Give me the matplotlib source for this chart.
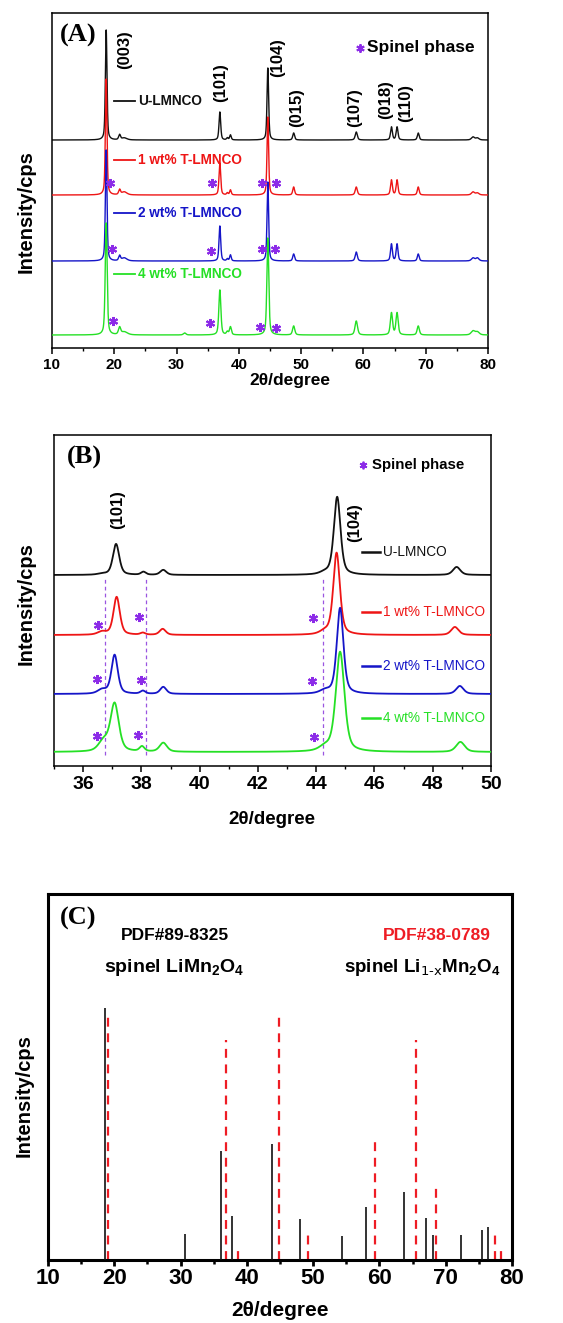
import numpy as np
import matplotlib
matplotlib.use('Agg')
import matplotlib.pyplot as plt
from matplotlib.ticker import MultipleLocator

plt.rcParams['font.family'] = ['Liberation Sans', 'DejaVu Sans']
plt.rcParams['mathtext.default'] = 'regular'

# ---------------- data ----------------
samples = ['U-LMNCO', '1 wt% T-LMNCO', '2 wt% T-LMNCO', '4 wt% T-LMNCO']
colors = ['#111111', '#ee1515', '#1515c8', '#25e025']

# Panel A: peak positions (deg), heights per sample, FWHM
a_pos = [18.7, 20.85, 21.6, 31.3, 36.95, 38.15, 38.65, 44.65, 48.8, 58.85, 64.5, 65.4, 68.8, 77.6, 78.3]
a_h_u = [110, 5, 2, 0, 28, 2, 5, 72, 7, 8, 13, 13, 7, 3, 2]
a_h_1 = [116, 5, 3, 0, 32, 2, 5, 78, 8, 8, 15, 15, 8, 3, 2]
a_h_2 = [111, 5, 3, 0, 35, 2, 6, 79, 7, 9, 17, 17, 7, 3, 3]
a_h_4 = [112, 7, 3, 2, 45, 3, 8, 97, 9, 14, 22, 22, 9, 4, 3]
a_fwhm = [0.3, 0.35, 1.0, 0.4, 0.32, 0.3, 0.3, 0.3, 0.35, 0.4, 0.35, 0.35, 0.35, 0.6, 0.6]
a_offsets = [208, 153, 87, 13]
a_star_x = [[19.3, 35.7, 43.7, 46.0], [19.6, 35.5, 43.7, 45.8], [19.8, 35.4, 43.4, 46.0]]
a_star_y = [[165, 165, 165, 165], [99, 97, 99, 99], [27, 25, 21, 20]]
a_hkl = ['(003)', '(101)', '(104)', '(015)', '(107)', '(018)', '(110)']
a_hkl_x = [21.7, 37.0, 46.3, 49.3, 58.6, 63.5, 66.7]
a_hkl_y = [298, 265, 290, 240, 240, 248, 245]

# Panel B
b_pos_u = [36.65, 37.13, 38.07, 38.75, 44.3, 44.72, 48.82]
b_pos_1 = [36.65, 37.15, 38.05, 38.73, 44.3, 44.70, 48.76]
b_pos_2 = [36.65, 37.08, 38.05, 38.75, 44.3, 44.82, 48.93]
b_pos_4 = [36.70, 37.08, 38.02, 38.75, 44.3, 44.82, 48.95]
b_h_u = [1, 31, 3, 5, 2, 78, 8]
b_h_1 = [3, 38, 2, 6, 3, 82, 8]
b_h_2 = [4, 39, 3, 7, 3, 86, 8]
b_h_4 = [10, 48, 5, 9, 4, 100, 10]
b_fwhm = [0.35, 0.26, 0.2, 0.25, 0.4, 0.27, 0.3]
b_fwhm_4 = [0.4, 0.34, 0.2, 0.3, 0.45, 0.35, 0.35]
b_offsets = [191, 131, 72, 14]
b_dash_x = [36.75, 38.16, 44.22]
b_star_x = [[36.52, 37.93, 43.9], [36.46, 37.98, 43.85], [36.49, 37.88, 43.93]]
b_star_y = [[141, 149, 148], [87, 86, 85], [30, 31, 29]]

# Panel C: reference patterns
c_black_pos = [18.6, 30.6, 36.1, 37.75, 43.85, 48.0, 54.4, 58.0, 63.7, 67.0, 68.15, 72.35, 75.45, 76.45]
c_black_h = [252, 26, 109, 44, 116, 41, 24, 53, 68, 42, 25, 25, 30, 33]
c_red_pos = [19.05, 36.9, 38.6, 44.85, 49.15, 59.4, 65.45, 68.6, 77.45, 78.35]
c_red_h = [245, 220, 14, 245, 27, 124, 220, 75, 27, 13]


def pattern(x, pos, h, w, eta=0.5):
    y = np.zeros_like(x)
    for p, a, f in zip(pos, h, w):
        g = np.exp(-4 * np.log(2) * ((x - p) / f) ** 2)
        l = 1.0 / (1 + 4 * ((x - p) / f) ** 2)
        y += a * (eta * l + (1 - eta) * g)
    return y


W, H = 563, 1323
fig = plt.figure(figsize=(W / 100, H / 100), dpi=100)


def add_ax(l, r, t, b):
    return fig.add_axes([l / W, 1 - b / H, (r - l) / W, (b - t) / H])


star_color = '#8c2be8'
bold = 'bold'

# ---------------- Panel A ----------------
axA = add_ax(52, 488, 13, 348)
xa = np.linspace(10, 80, 7001)
for i, hh in enumerate([a_h_u, a_h_1, a_h_2, a_h_4]):
    w = a_fwhm if i < 3 else [f * 1.2 for f in a_fwhm]
    axA.plot(xa, a_offsets[i] + pattern(xa, a_pos, hh, w), color=colors[i], lw=1.0, zorder=2 + i)
for sx, sy in zip(a_star_x, a_star_y):
    axA.plot(sx, sy, ls='none', marker=(6, 2, 0), ms=6.5, mew=1.5, color=star_color, zorder=10)
for t, x, y in zip(a_hkl, a_hkl_x, a_hkl_y):
    axA.text(x, y, t, rotation=90, ha='center', va='center', fontsize=12, fontweight=bold)
a_leg_y = [247, 188, 135, 74]
for i in range(4):
    axA.plot([19.95, 23.4], [a_leg_y[i]] * 2, color=colors[i], lw=1.3, zorder=11)
    axA.text(23.8, a_leg_y[i], samples[i], color=colors[i], fontsize=9.8, fontweight=bold,
             ha='left', va='center', zorder=11)
axA.plot([59.4], [300], ls='none', marker=(6, 2, 0), ms=6, mew=1.4, color=star_color)
axA.text(60.6, 300, 'Spinel phase', fontsize=12.5, fontweight=bold, ha='left', va='center')
axA.text(11.2, 313, '(A)', fontsize=19, fontweight=bold, family='Liberation Serif', ha='left', va='center')
axA.set_xlim(10, 80)
axA.set_ylim(0, 335)
axA.set_yticks([])
axA.xaxis.set_major_locator(MultipleLocator(10))
axA.xaxis.set_minor_locator(MultipleLocator(5))
axA.tick_params(axis='x', which='major', direction='out', length=4, width=1.1, labelsize=11, pad=3)
axA.tick_params(axis='x', which='minor', direction='out', length=2.5, width=1.0)
for lab in axA.get_xticklabels():
    lab.set_fontweight(bold)
for s in axA.spines.values():
    s.set_linewidth(1.1)
fig.text(290 / W, 1 - 381 / H, '2θ/degree', fontsize=12.5, fontweight=bold, ha='center', va='center')
fig.text(26 / W, 1 - 212 / H, 'Intensity/cps', fontsize=14.5, fontweight=bold, rotation=90,
         ha='center', va='center')

# ---------------- Panel B ----------------
axB = add_ax(54, 491, 435, 766)
xb = np.linspace(35, 50, 3001)
b_pos_all = [b_pos_u, b_pos_1, b_pos_2, b_pos_4]
for i, hh in enumerate([b_h_u, b_h_1, b_h_2, b_h_4]):
    w = b_fwhm if i < 3 else b_fwhm_4
    axB.plot(xb, b_offsets[i] + pattern(xb, b_pos_all[i], hh, w), color=colors[i], lw=1.3, zorder=2 + i)
for xd in b_dash_x:
    axB.plot([xd, xd], [11, 188], ls=(0, (3, 2.5)), color='#9a55e0', lw=0.9, zorder=1)
for sx, sy in zip(b_star_x, b_star_y):
    axB.plot(sx, sy, ls='none', marker=(6, 2, 0), ms=6.5, mew=1.5, color=star_color, zorder=10)
axB.text(37.2, 256, '(101)', rotation=90, ha='center', va='center', fontsize=12, fontweight=bold)
axB.text(45.33, 243, '(104)', rotation=90, ha='center', va='center', fontsize=12, fontweight=bold)
b_leg_y = [214, 154, 100, 48]
for i in range(4):
    axB.plot([45.57, 46.19], [b_leg_y[i]] * 2, color=colors[i], lw=1.8, zorder=11)
    axB.text(46.28, b_leg_y[i], samples[i], color=colors[i], fontsize=9.8,
             ha='left', va='center', zorder=11)
axB.plot([45.6], [301], ls='none', marker=(6, 2, 0), ms=5.5, mew=1.3, color=star_color)
axB.text(45.9, 301, 'Spinel phase', fontsize=10.8, fontweight=bold, ha='left', va='center')
axB.text(35.45, 309, '(B)', fontsize=19, fontweight=bold, family='Liberation Serif', ha='left', va='center')
axB.set_xlim(35, 50)
axB.set_ylim(0, 331)
axB.set_yticks([])
axB.xaxis.set_major_locator(MultipleLocator(2))
axB.xaxis.set_minor_locator(MultipleLocator(1))
axB.tick_params(axis='x', which='major', direction='out', length=4, width=1.1, labelsize=14, pad=3)
axB.tick_params(axis='x', which='minor', direction='out', length=2.5, width=1.0)
for lab in axB.get_xticklabels():
    lab.set_fontweight(bold)
for s in axB.spines.values():
    s.set_linewidth(1.1)
fig.text(272 / W, 1 - 820 / H, '2θ/degree', fontsize=13.5, fontweight=bold, ha='center', va='center')
fig.text(26 / W, 1 - 604 / H, 'Intensity/cps', fontsize=14.5, fontweight=bold, rotation=90,
         ha='center', va='center')

# ---------------- Panel C ----------------
axC = add_ax(48, 512, 894, 1260)
axC.vlines(c_black_pos, 0, c_black_h, color='#111111', lw=1.2, zorder=3)
axC.vlines(c_red_pos, 0, c_red_h, color='#ee1c24', lw=1.6, linestyles=[(0, (4, 3))], zorder=2)
axC.text(11.8, 342, '(C)', fontsize=19, fontweight=bold, family='Liberation Serif', ha='left', va='center')
axC.text(29.2, 325, 'PDF#89-8325', fontsize=12.5, fontweight=bold, ha='center', va='center')
axC.text(18.45, 288, 'spinel LiMn$_2$O$_4$', fontsize=14, fontweight=bold, ha='left', va='baseline')
axC.text(68.7, 325, 'PDF#38-0789', fontsize=12.5, fontweight=bold, color='#ee1c24', ha='center', va='center')
axC.text(54.6, 288, r'spinel Li$_{\text{1-x}}$Mn$_2$O$_4$', fontsize=13.5, fontweight=bold,
         ha='left', va='baseline')
axC.set_xlim(10, 80)
axC.set_ylim(0, 366)
axC.set_yticks([])
axC.xaxis.set_major_locator(MultipleLocator(10))
axC.xaxis.set_minor_locator(MultipleLocator(5))
axC.tick_params(axis='x', which='major', direction='out', length=4, width=2, labelsize=16, pad=1.5)
axC.tick_params(axis='x', which='minor', direction='out', length=3, width=1.8)
for lab in axC.get_xticklabels():
    lab.set_fontweight(bold)
for s in axC.spines.values():
    s.set_linewidth(2.2)
fig.text(280 / W, 1 - 1311 / H, '2θ/degree', fontsize=15, fontweight=bold, ha='center', va='center')
fig.text(24 / W, 1 - 1096 / H, 'Intensity/cps', fontsize=14.5, fontweight=bold, rotation=90,
         ha='center', va='center')

fig.savefig('out.png', dpi=100)
